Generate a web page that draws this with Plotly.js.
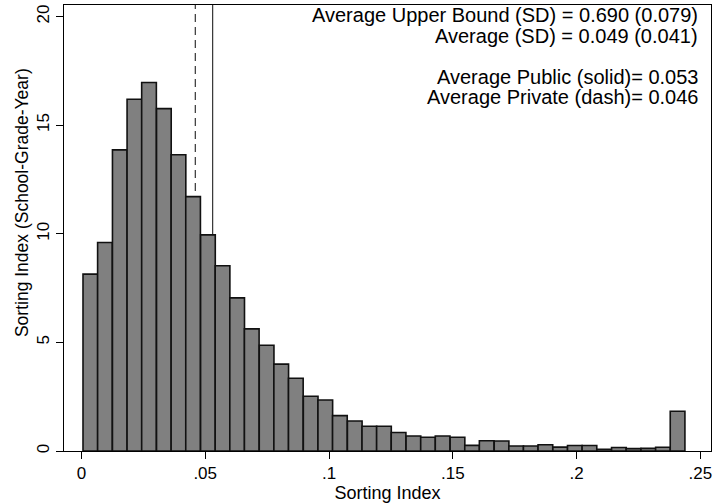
<!DOCTYPE html>
<html>
<head>
<meta charset="utf-8">
<script src="https://cdn.plot.ly/plotly-3.0.1.min.js"></script>
<style>
  html, body { margin: 0; padding: 0; background: #ffffff; }
  #chart { width: 713px; height: 503px; }
</style>
</head>
<body>
<div id="chart"></div>
<script>
// Histogram bin centers (bin width ~0.00593)
const binCenters = [
  0.0036, 0.0095, 0.0155, 0.0214, 0.0273, 0.0333, 0.0392, 0.0451, 0.0511, 0.0570,
  0.0629, 0.0688, 0.0748, 0.0807, 0.0866, 0.0926, 0.0985, 0.1044, 0.1104, 0.1163,
  0.1222, 0.1281, 0.1341, 0.1400, 0.1459, 0.1519, 0.1578, 0.1637, 0.1697, 0.1756,
  0.1815, 0.1874, 0.1934, 0.1993, 0.2052, 0.2112, 0.2171, 0.2230, 0.2290, 0.2349,
  0.2408
];
const binWidth = 0.00593;
// Density values
const density = [
  8.14, 9.60, 13.86, 16.19, 16.96, 15.76, 13.64, 11.71, 9.95, 8.53,
  7.05, 5.62, 4.87, 4.00, 3.35, 2.52, 2.35, 1.63, 1.38, 1.14,
  1.14, 0.85, 0.69, 0.63, 0.69, 0.63, 0.26, 0.47, 0.46, 0.23,
  0.23, 0.29, 0.18, 0.25, 0.25, 0.08, 0.16, 0.11, 0.12, 0.17,
  1.83
];
const publicAvg = 0.053;   // solid line
const privateAvg = 0.046;  // dashed line
const xTickVals = [0, 0.05, 0.1, 0.15, 0.2, 0.25];
const xTickText = ['0', '.05', '.1', '.15', '.2', '.25'];
const yTickVals = [0, 5, 10, 15, 20];
const yTickText = ['0', '5', '10', '15', '20'];
const noteLines = [
  'Average Upper Bound (SD) = 0.690 (0.079)',
  'Average (SD) = 0.049 (0.041)',
  'Average Public (solid)= 0.053',
  'Average Private (dash)= 0.046'
];
const noteY = [0.9776, 0.9316, 0.8386, 0.7937];

const FONT = 'Liberation Sans, Arial, Helvetica, sans-serif';

const trace = {
  type: 'bar',
  x: binCenters,
  y: density,
  width: binCenters.map(() => binWidth),
  marker: { color: '#808080', line: { color: '#111111', width: 1.6 } },
  hoverinfo: 'x+y'
};

const annotations = noteLines.map((t, i) => ({
  text: t, xref: 'paper', yref: 'paper', x: 0.983, y: noteY[i],
  xanchor: 'right', yanchor: 'middle', showarrow: false,
  font: { family: FONT, size: 20, color: '#000000' }
}));
annotations.push({
  text: 'Sorting Index (School-Grade-Year)', xref: 'paper', yref: 'paper',
  x: -0.065, y: 0.558, xanchor: 'center', yanchor: 'middle', textangle: -90,
  showarrow: false, font: { family: FONT, size: 17.5, color: '#000000' }
});

const layout = {
  width: 713, height: 503,
  margin: { l: 64, r: 2, t: 5, b: 52, pad: 0 },
  paper_bgcolor: '#ffffff', plot_bgcolor: '#ffffff',
  showlegend: false,
  bargap: 0,
  font: { family: FONT, color: '#000000' },
  xaxis: {
    range: [-0.00704, 0.2543],
    tickvals: xTickVals, ticktext: xTickText,
    ticks: 'outside', ticklen: 7, tickwidth: 1, tickcolor: '#000000',
    showline: true, linecolor: '#000000', linewidth: 1, mirror: true,
    showgrid: false, zeroline: false,
    tickfont: { family: FONT, size: 17, color: '#000000' },
    title: { text: 'Sorting Index', font: { family: FONT, size: 18, color: '#000000' }, standoff: 2 }
  },
  yaxis: {
    range: [0, 20.53],
    tickvals: yTickVals, ticktext: yTickText, tickangle: -90,
    ticks: 'outside', ticklen: 7, tickwidth: 1, tickcolor: '#000000',
    showline: true, linecolor: '#000000', linewidth: 1, mirror: true,
    showgrid: false, zeroline: false,
    tickfont: { family: FONT, size: 17, color: '#000000' }
  },
  shapes: [
    { type: 'line', xref: 'x', yref: 'paper', x0: publicAvg, x1: publicAvg, y0: 0, y1: 1,
      layer: 'below', line: { color: '#333333', width: 1.2 } },
    { type: 'line', xref: 'x', yref: 'paper', x0: privateAvg, x1: privateAvg, y0: 0, y1: 1,
      layer: 'below', line: { color: '#333333', width: 1.2, dash: '8px,5px' } }
  ],
  annotations: annotations
};

Plotly.newPlot('chart', [trace], layout, { displayModeBar: false, staticPlot: true });
</script>
</body>
</html>
